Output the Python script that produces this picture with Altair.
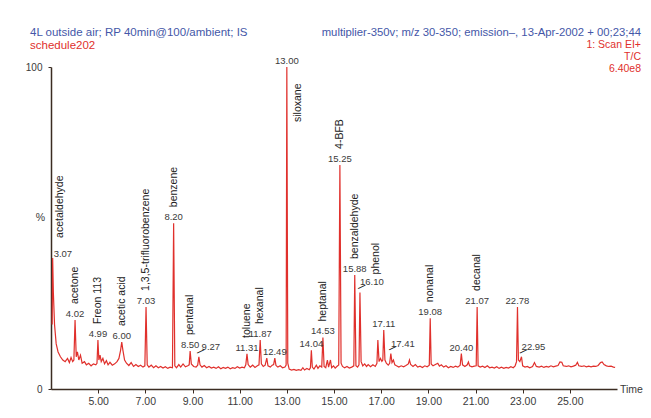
import altair as alt
import pandas as pd

# ---- chromatogram trace (time in min, relative intensity %) ----
trace_time = [
    3.05, 3.07, 3.10, 3.15, 3.22, 3.30, 3.40, 3.50, 3.60, 3.70, 3.78, 3.85, 3.92, 3.97,
    4.02, 4.07, 4.12, 4.18, 4.25, 4.32, 4.42, 4.50, 4.60, 4.70, 4.80, 4.90, 4.95,
    4.99, 5.03, 5.08, 5.13, 5.20, 5.27, 5.35, 5.42, 5.50, 5.60, 5.70, 5.80, 5.88, 5.95,
    6.00, 6.05, 6.12, 6.20, 6.30, 6.40, 6.50, 6.60, 6.70, 6.80, 6.90, 6.98,
    7.03, 7.08, 7.15, 7.25, 7.35, 7.45, 7.55, 7.65, 7.75, 7.85, 7.95, 8.05, 8.15,
    8.20, 8.25, 8.32, 8.42, 8.50, 8.60, 8.70, 8.80, 8.86,
    8.90, 8.95, 9.05, 9.15, 9.22, 9.27, 9.32, 9.40, 9.50, 9.60, 9.70, 9.80, 9.90,
    10.00, 10.10, 10.20, 10.30, 10.40, 10.50, 10.60, 10.70, 10.80, 10.90, 11.00, 11.10, 11.20, 11.26,
    11.31, 11.36, 11.45, 11.55, 11.65, 11.75, 11.82, 11.87, 11.92, 12.00, 12.08, 12.15, 12.20,
    12.30, 12.38, 12.44, 12.49, 12.54, 12.62, 12.72, 12.82, 12.92, 12.97,
    13.00, 13.04, 13.10, 13.20, 13.30, 13.40, 13.50, 13.60, 13.68, 13.75, 13.85, 13.95, 14.00,
    14.04, 14.08, 14.15, 14.25, 14.32, 14.40, 14.48, 14.53, 14.58, 14.65, 14.72, 14.77, 14.85,
    14.90, 14.98, 15.05, 15.12, 15.20, 15.25, 15.30, 15.36, 15.45, 15.55, 15.65, 15.75, 15.84,
    15.88, 15.93, 16.00, 16.06, 16.10, 16.15, 16.22, 16.30, 16.38, 16.45, 16.55, 16.65, 16.75,
    16.82, 16.86, 16.91, 16.97, 17.03, 17.07, 17.11, 17.16, 17.22, 17.30, 17.36, 17.41, 17.46,
    17.52, 17.58, 17.65, 17.75, 17.85, 17.95, 18.05, 18.15, 18.20, 18.25, 18.35, 18.45, 18.55,
    18.65, 18.75, 18.85, 18.95, 19.04, 19.08, 19.12, 19.20, 19.30, 19.40, 19.47, 19.55, 19.65,
    19.75, 19.85, 19.95, 20.05, 20.15, 20.25, 20.35, 20.40, 20.45, 20.55, 20.65, 20.70, 20.75,
    20.85, 20.95, 21.03, 21.07, 21.11, 21.20, 21.30, 21.40, 21.50, 21.60, 21.70, 21.80, 21.90,
    22.00, 22.10, 22.20, 22.30, 22.40, 22.50, 22.60, 22.68, 22.74, 22.78, 22.82, 22.88, 22.95,
    23.00, 23.10, 23.20, 23.30, 23.42, 23.50, 23.58, 23.70, 23.80, 23.90, 24.00, 24.10, 24.20,
    24.30, 24.40, 24.50, 24.58, 24.66, 24.72, 24.85, 24.95, 25.05, 25.15, 25.25, 25.32, 25.38,
    25.50, 25.60, 25.70, 25.80, 25.90, 26.00, 26.10, 26.20, 26.30, 26.37, 26.45, 26.55, 26.65,
    26.75, 26.85, 26.92,
]
trace_pct = [
    20.0, 40.7, 30.0, 20.0, 14.0, 11.5, 10.0, 9.0, 8.5, 9.5, 8.2, 9.8, 8.5, 9.0,
    21.4, 10.0, 11.5, 9.0, 10.5, 8.0, 8.5, 7.5, 8.0, 7.2, 7.8, 7.5, 8.0,
    15.2, 9.0, 10.5, 8.5, 9.5, 7.8, 8.8, 7.5, 8.3, 7.4, 7.8, 8.5, 9.5, 12.0,
    14.6, 12.0, 9.0, 8.0, 7.3, 8.2, 7.0, 7.6, 7.0, 7.4, 6.8, 7.2,
    25.5, 7.5, 6.8, 7.4, 6.6, 7.2, 6.6, 7.0, 6.5, 6.9, 6.4, 6.8, 6.6,
    51.5, 7.2, 6.6, 7.6, 6.8, 7.8, 6.9, 7.2, 7.5,
    11.8, 7.8, 7.0, 6.8, 7.4, 10.0, 7.5, 6.8, 7.3, 6.6, 7.0, 6.5, 6.8,
    6.4, 6.9, 6.3, 6.7, 6.4, 6.8, 6.3, 6.6, 6.4, 6.9, 6.5, 6.8, 6.6, 7.5,
    10.9, 7.6, 6.8, 7.4, 6.7, 7.2, 7.5, 15.2, 7.8, 7.0, 7.4, 9.6, 7.2,
    6.8, 7.4, 7.6, 9.6, 7.3, 6.8, 7.2, 6.6, 6.8, 7.4,
    100.0, 8.0, 6.2, 5.9, 6.1, 5.8, 6.0, 5.8, 6.6, 5.9, 6.4, 6.0, 6.6,
    12.0, 6.8, 6.2, 7.4, 6.4, 7.2, 6.8, 16.0, 7.0, 6.6, 9.0, 6.8, 9.0,
    6.6, 7.2, 6.5, 7.0, 7.5, 69.6, 8.0, 7.0, 6.6, 7.0, 6.5, 6.8, 7.2,
    35.4, 7.2, 6.8, 7.5, 30.0, 8.5, 7.2, 7.8, 7.0, 7.6, 6.9, 7.5, 7.0,
    8.0, 15.2, 8.5, 9.5, 8.6, 9.0, 18.3, 9.0, 8.0, 7.4, 8.0, 11.0, 8.2,
    9.0, 7.5, 7.2, 6.8, 7.2, 6.9, 7.3, 7.8, 9.0, 7.6, 7.0, 7.6, 6.8,
    7.1, 6.7, 7.2, 6.9, 7.4, 22.0, 7.8, 7.2, 7.6, 8.0, 7.1, 7.5, 6.8,
    7.2, 6.6, 7.0, 6.7, 7.1, 6.8, 7.4, 11.0, 7.5, 7.0, 7.5, 8.4, 7.2,
    6.9, 7.1, 7.2, 25.5, 7.2, 6.8, 7.1, 6.7, 7.2, 6.6, 6.8, 6.5, 6.9,
    6.4, 6.8, 6.4, 6.7, 6.5, 6.9, 6.6, 7.2, 8.5, 25.5, 9.0, 8.5, 10.0,
    7.2, 6.8, 7.0, 6.6, 7.0, 8.2, 7.0, 6.8, 7.1, 6.7, 7.0, 6.8, 7.2,
    6.9, 7.1, 7.3, 8.4, 8.3, 7.2, 7.0, 7.2, 6.9, 7.1, 7.4, 8.3, 7.2,
    7.0, 7.2, 6.9, 7.1, 6.9, 7.1, 7.0, 7.3, 8.2, 8.4, 7.6, 7.2, 7.0,
    7.1, 6.8, 6.7,
]

# ---- peak annotations ----
rt_text = ["3.07", "4.02", "4.99", "6.00", "7.03", "8.20", "8.50", "9.27", "11.31", "11.87",
           "12.49", "13.00", "14.04", "14.53", "15.25", "15.88", "16.10", "17.11", "17.41",
           "19.08", "20.40", "21.07", "22.78", "22.95"]
apex_time = [3.07, 4.02, 4.99, 6.00, 7.03, 8.20, 8.90, 9.27, 11.31, 11.87,
             12.49, 13.00, 14.04, 14.53, 15.25, 15.88, 16.10, 17.11, 17.41,
             19.08, 20.40, 21.07, 22.78, 22.95]
apex_pct = [40.7, 21.4, 15.2, 14.6, 25.5, 51.5, 11.8, 10.0, 10.9, 15.2,
            9.6, 100.0, 12.0, 16.0, 69.6, 35.4, 30.0, 18.3, 11.0,
            22.0, 11.0, 25.5, 25.5, 10.0]
arrowed_rt = ["9.27", "16.10", "17.41", "22.95"]
left_rt = ["3.07"]

compound_names = ["acetaldehyde", "acetone", "Freon 113", "acetic acid", "1,3,5-trifluorobenzene",
                  "benzene", "pentanal", "toluene", "hexanal", "siloxane", "heptanal", "4-BFB",
                  "benzaldehyde", "phenol", "nonanal", "decanal"]
compound_rt = ["3.07", "4.02", "4.99", "6.00", "7.03",
               "8.20", "8.50", "11.31", "11.87", "13.00", "14.53", "15.25",
               "15.88", "16.10", "19.08", "21.07"]

x_ticks = [5, 7, 9, 11, 13, 15, 17, 19, 21, 23, 25]

header_left = "4L outside air; RP 40min@100/ambient; IS"
header_left2 = "schedule202"
header_right = "multiplier-350v; m/z 30-350; emission\u2013, 13-Apr-2002 + 00;23;44"
header_right2 = ["1: Scan EI+", "T/C", "6.40e8"]

# ---- tables ----
trace_df = pd.DataFrame({"t": trace_time, "p": trace_pct})
peaks_df = pd.DataFrame({"rt": rt_text, "t": apex_time, "p": apex_pct})
peaks_df["group"] = ["arrow" if r in arrowed_rt else ("left" if r in left_rt else "normal")
                     for r in rt_text]
names_df = pd.DataFrame({"name": compound_names, "rt": compound_rt}).merge(peaks_df, on="rt")

FONT = "Liberation Sans"
RED = "#e0302c"
BLUE = "#4457a8"
DARK = "#3a3a3a"
AXC = "#3b2c22"

W, H = 566, 322
xs = alt.Scale(domain=[3.0, 27.0], nice=False, zero=False)
ys = alt.Scale(domain=[0, 100], nice=False)

X = alt.X("t:Q", scale=xs, axis=alt.Axis(values=x_ticks, format=".2f", title=None, grid=False,
                                          tickSize=4, labelPadding=3, labelFontSize=10.5,
                                          labelColor=DARK, labelFont=FONT, domainColor=AXC,
                                          tickColor=AXC, domainWidth=1.5))
Y = alt.Y("p:Q", scale=ys, axis=alt.Axis(values=[0, 100], title="%", titleAngle=0, titleX=-11,
                                          titleY=155, titleFontWeight="normal", titleFontSize=10.5,
                                          titleColor=DARK, titleFont=FONT, grid=False, tickSize=3,
                                          labelPadding=6, labelFontSize=10, labelColor=DARK,
                                          labelFont=FONT, domainColor=AXC,
                                          tickColor=AXC, domainWidth=1.5))

trace = alt.Chart(trace_df).mark_line(color=RED, strokeWidth=1.2).encode(x=X, y=Y)

def xq():
    return alt.X("t:Q", scale=xs)

def yq():
    return alt.Y("p:Q", scale=ys)

lab_normal = alt.Chart(peaks_df[peaks_df.group == "normal"]).mark_text(
    font=FONT, fontSize=9.5, color=DARK, align="center", baseline="bottom", dy=-1
).encode(x=xq(), y=yq(), text="rt:N")
lab_left = alt.Chart(peaks_df[peaks_df.group == "left"]).mark_text(
    font=FONT, fontSize=9.5, color=DARK, align="left", baseline="bottom", dx=1, dy=1
).encode(x=xq(), y=yq(), text="rt:N")
lab_arrow = alt.Chart(peaks_df[peaks_df.group == "arrow"]).mark_text(
    font=FONT, fontSize=9.5, color=DARK, align="center", baseline="bottom", dx=12, dy=-5
).encode(x=xq(), y=yq(), text="rt:N")
arrows = alt.Chart(peaks_df[peaks_df.group == "arrow"]).mark_text(
    text="\u2014", font=FONT, fontSize=8, fontWeight="bold", color="#111", angle=335,
    align="center", baseline="middle", dx=4, dy=-4
).encode(x=xq(), y=yq())

def names_layer(df, dx, dy):
    return alt.Chart(df).mark_text(
        font=FONT, fontSize=10.5, color="#222", angle=270, align="left", baseline="middle",
        dx=dx, dy=dy
    ).encode(x=xq(), y=yq(), text="name:N")

nm_normal = names_layer(names_df[(names_df.group == "normal") & (names_df.name != "siloxane")], 16, 0)
nm_left = names_layer(names_df[names_df.group == "left"], 20, 7)
nm_arrow = names_layer(names_df[names_df.group == "arrow"], 18, 16)
nm_top = names_layer(names_df[names_df.name == "siloxane"], -55, 11)

one = pd.DataFrame({"k": [0]})

def note(text, x, y, color, align="left", size=11.5):
    return alt.Chart(one).mark_text(text=text, font=FONT, fontSize=size, color=color,
                                    align=align, baseline="middle").encode(
        x=alt.value(x), y=alt.value(y))

notes = [
    note(header_left, -21, -34, BLUE),
    note(header_left2, -21, -21, RED),
    note(header_right, 590, -34, BLUE, align="right", size=11.3),
    note(header_right2[0], 590, -22, RED, align="right", size=10.5),
    note(header_right2[1], 590, -10, RED, align="right", size=10.5),
    note(header_right2[2], 590, 2, RED, align="right", size=10.5),
    note("Time", 569, 323, DARK, size=10.5),
]

chart = alt.layer(
    trace, lab_normal, lab_left, lab_arrow, arrows,
    nm_normal, nm_left, nm_arrow, nm_top, *notes
).properties(
    width=W, height=H,
    autosize=alt.AutoSizeParams(type="none"),
    padding={"left": 43, "top": 59, "right": 26, "bottom": 21},
    background="white",
).configure_view(stroke=None)

chart.save("out.html", embed_options={"renderer": "svg", "actions": False})
